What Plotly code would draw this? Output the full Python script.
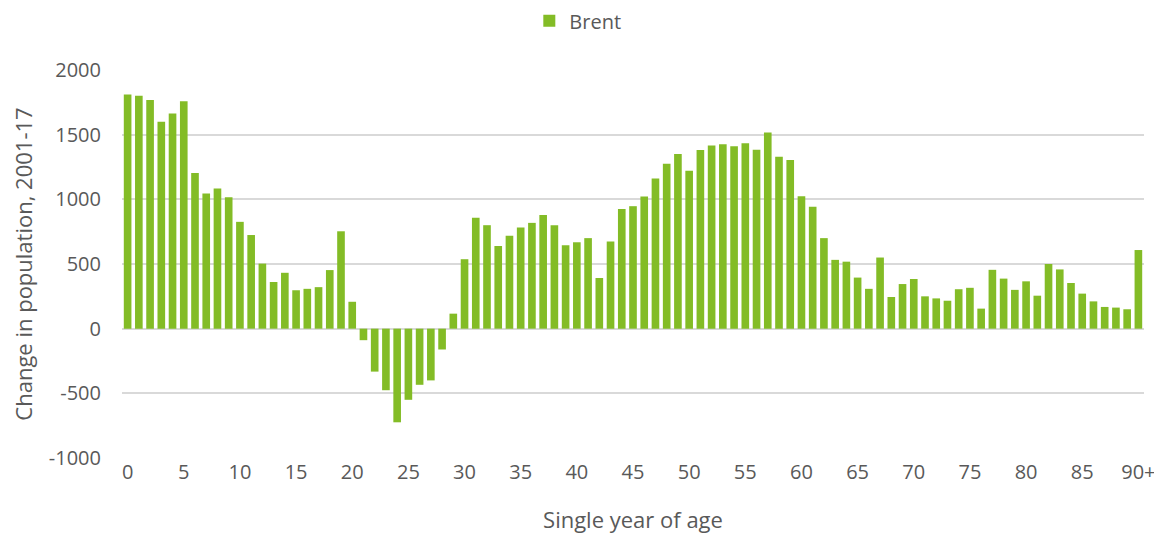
import plotly.graph_objects as go

ages = list(range(91))
values = [1811, 1800, 1768, 1600, 1663, 1758, 1203, 1045, 1084, 1016,
          826, 724, 503, 361, 432, 297, 308, 321, 453, 753,
          208, -89, -332, -476, -724, -550, -434, -400, -161, 116,
          537, 858, 800, 639, 718, 782, 818, 879, 800, 645,
          668, 700, 392, 674, 926, 947, 1021, 1161, 1276, 1350,
          1221, 1382, 1416, 1426, 1411, 1434, 1384, 1516, 1329, 1305,
          1024, 942, 700, 532, 518, 395, 308, 550, 245, 345,
          384, 250, 234, 216, 305, 316, 155, 455, 387, 300,
          366, 255, 500, 458, 353, 271, 211, 168, 163, 150,
          608]
tick_vals = list(range(0, 91, 5))
tick_text = [str(v) for v in range(0, 90, 5)] + ["90+"]
y_ticks = [-1000, -500, 0, 500, 1000, 1500, 2000]
y_tick_text = [str(v) for v in y_ticks]

font_family = "Open Sans, Lato, sans-serif"
text_color = "#595959"

fig = go.Figure()
fig.add_trace(go.Bar(
    x=ages, y=values, name="Brent",
    marker=dict(color="#83BC26", line=dict(width=0)),
    showlegend=True,
))
fig.update_layout(
    width=1154, height=528,
    margin=dict(l=114, r=18, t=62, b=78, autoexpand=False),
    plot_bgcolor="white", paper_bgcolor="white",
    bargap=0.32,
    font=dict(family=font_family, size=20, color=text_color),
    legend=dict(orientation="h", x=0.446, xanchor="center", y=1.127, yanchor="middle",
                yref="paper", font=dict(size=20, color=text_color),
                itemwidth=30, tracegroupgap=0),
    xaxis=dict(
        range=[-0.5, 90.5], tickmode="array", tickvals=tick_vals, ticktext=tick_text,
        showgrid=False, zeroline=False, showline=False, ticks="",
        tickfont=dict(size=20, color=text_color), automargin=False,
        title=dict(text="Single year of age", font=dict(size=22, color=text_color), standoff=28),
    ),
    yaxis=dict(
        range=[-1000, 2000], tickmode="array", tickvals=y_ticks, ticktext=y_tick_text,
        showgrid=True, gridcolor="#D9D9D9", gridwidth=1.5,
        zeroline=True, zerolinecolor="#D9D9D9", zerolinewidth=1.5,
        showline=False, ticks="", ticklabelstandoff=20, automargin=False,
        tickfont=dict(size=20, color=text_color),
        title=dict(text="Change in population, 2001-17", font=dict(size=22, color=text_color), standoff=12),
    ),
)
fig.write_html("out.html")
